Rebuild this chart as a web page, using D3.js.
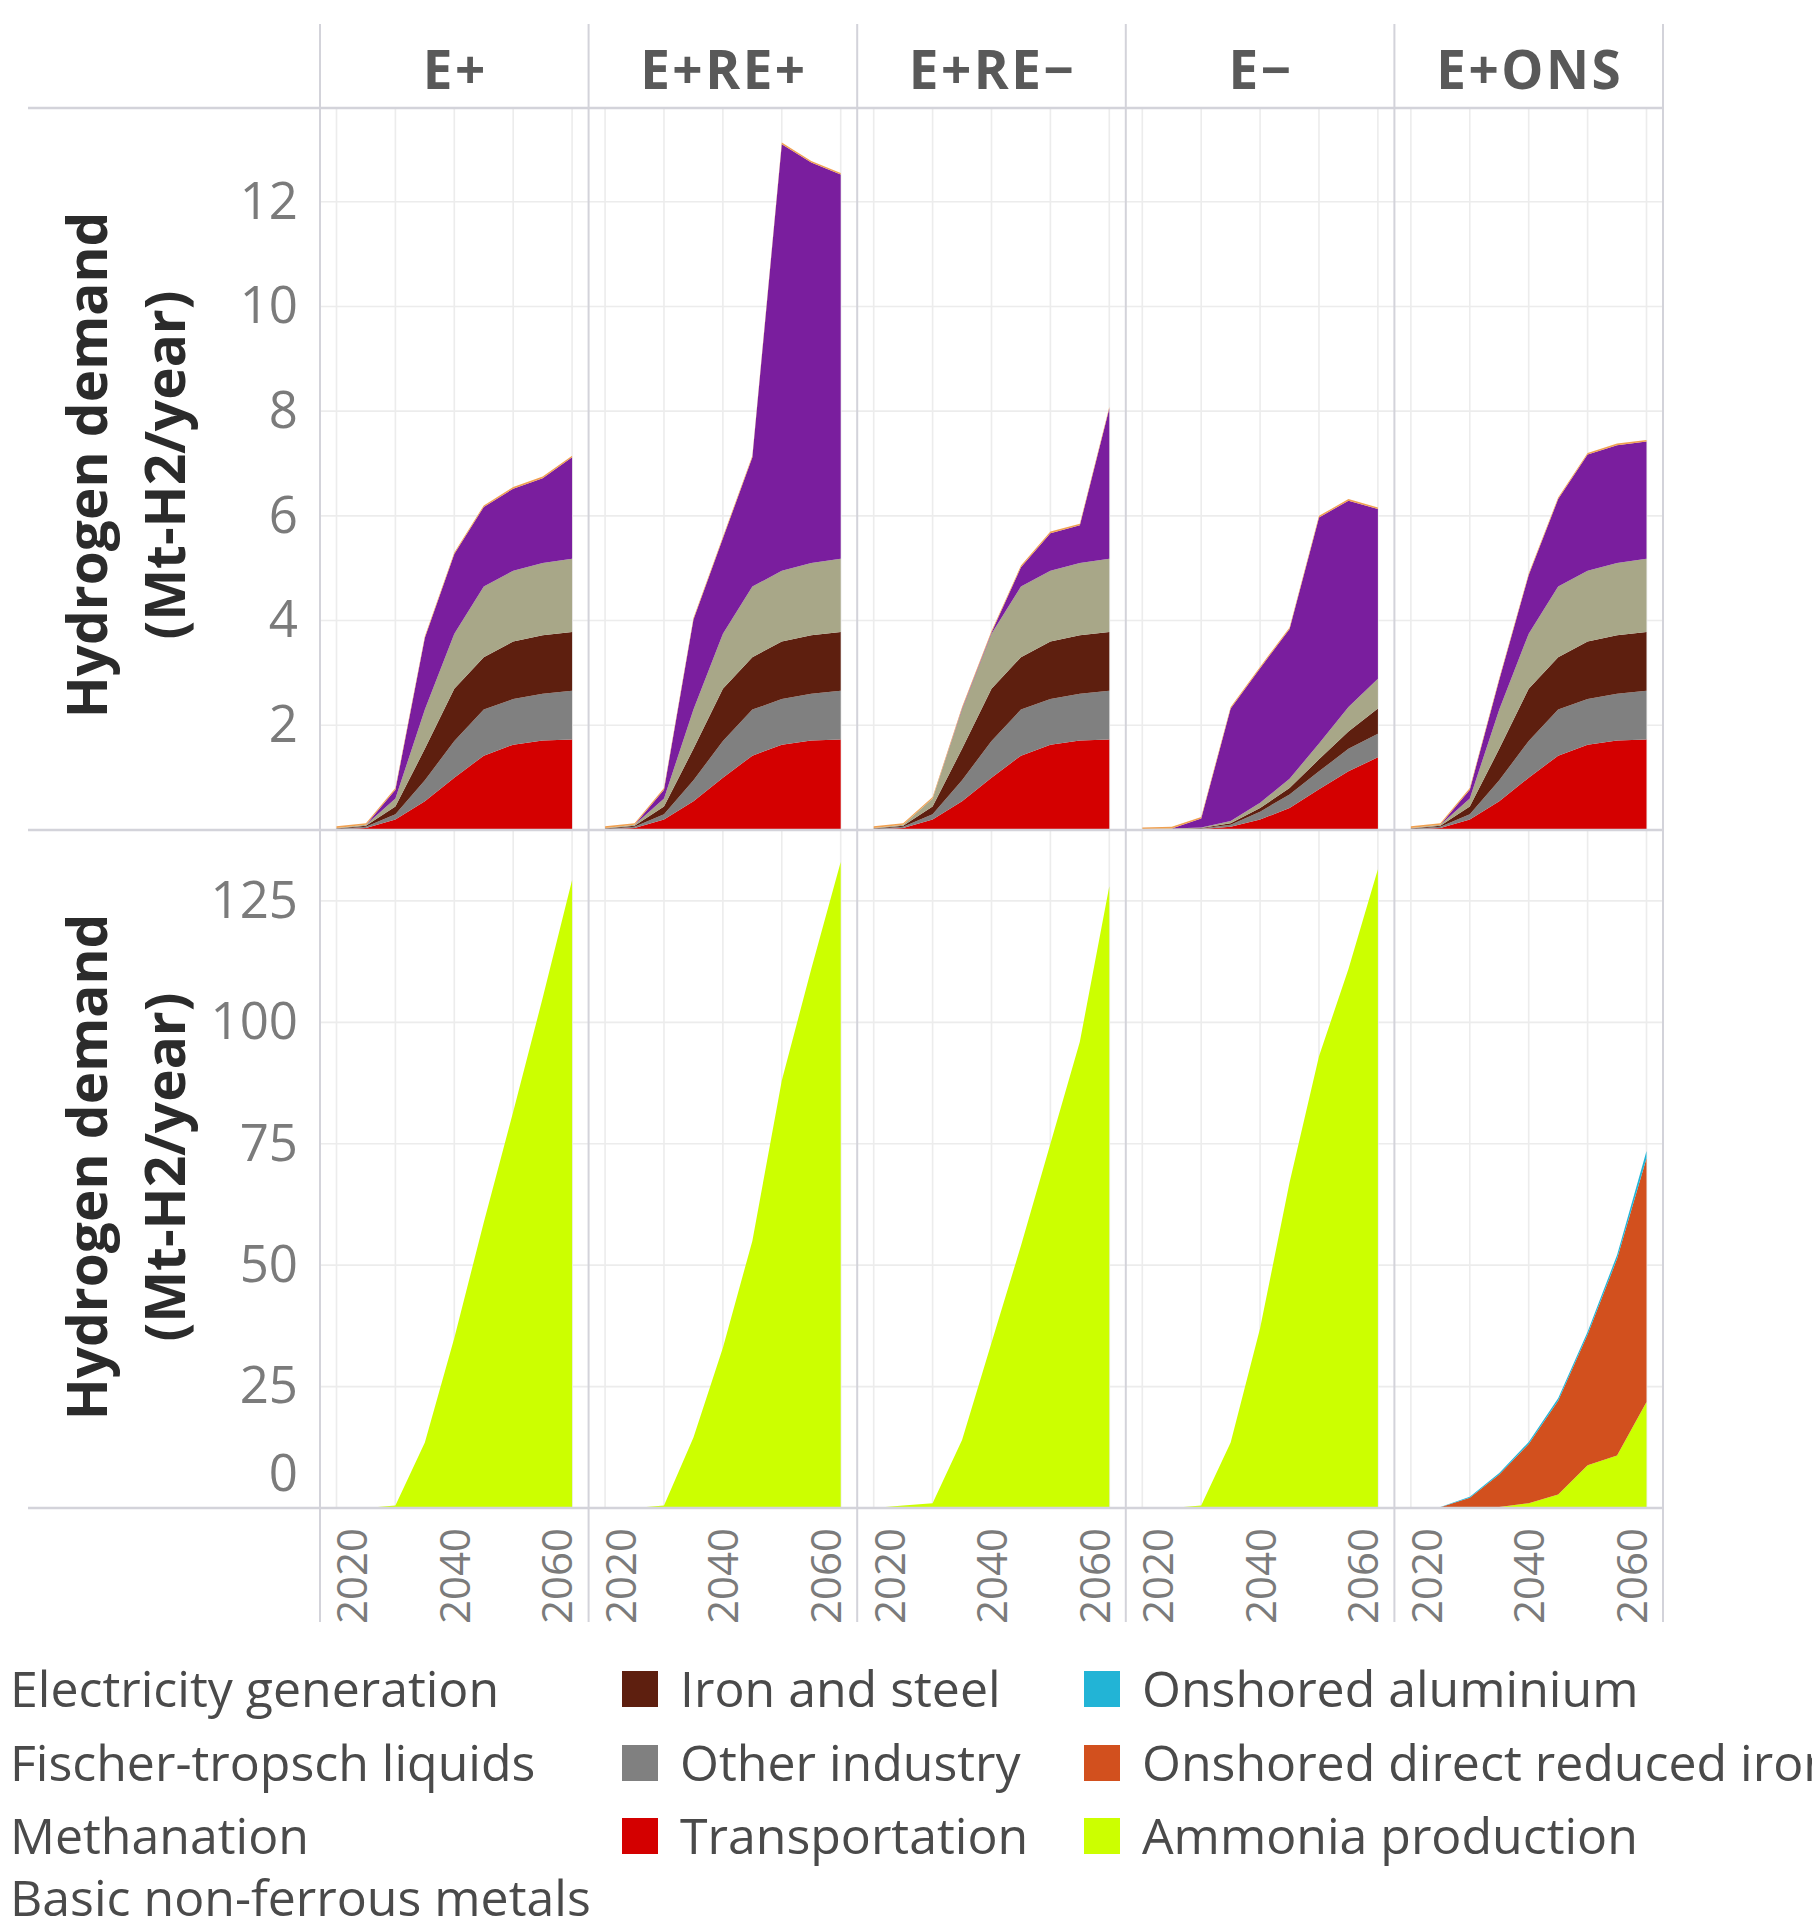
<!DOCTYPE html>
<html>
<head>
<meta charset="utf-8">
<script src="https://cdn.jsdelivr.net/npm/d3@7"></script>
<style>
  body { margin: 0; background: #fff; }
  text { font-family: "Open Sans", "Noto Sans", sans-serif; }
</style>
</head>
<body>
<svg id="chart" width="1812" height="1932"></svg>
<script>
// ---------------- DATA ----------------
const years = [2020, 2025, 2030, 2035, 2040, 2045, 2050, 2055, 2060];
const scenarios = ["E+", "E+RE+", "E+RE\u2212", "E\u2212", "E+ONS"];

const topTicks = [2, 4, 6, 8, 10, 12];
const bottomTicks = [0, 25, 50, 75, 100, 125];
const xTickLabels = [2020, 2040, 2060];
const xGridYears = [2020, 2030, 2040, 2050, 2060];

const legendLabels = [
  "Electricity generation", "Fischer-tropsch liquids", "Methanation", "Basic non-ferrous metals",
  "Iron and steel", "Other industry", "Transportation",
  "Onshored aluminium", "Onshored direct reduced iron", "Ammonia production"
];
const sectorColors = [
  "#f0a050", "#7a1e9e", "#a8a788", "#8fa08a",
  "#5e1f0f", "#808080", "#d40000",
  "#22b4d6", "#d2501e", "#ccff00"
];

// Top panel sectors (rows: E+, E+RE+, E+RE-, E-, E+ONS), Mt-H2/year
const electricityGeneration = [
  [0.03,0.03,0.03,0.03,0.03,0.03,0.03,0.03,0.03],
  [0.03,0.03,0.03,0.03,0.03,0.03,0.03,0.03,0.03],
  [0.03,0.03,0.03,0.03,0.03,0.03,0.03,0.03,0.03],
  [0.03,0.03,0.03,0.03,0.03,0.03,0.03,0.03,0.03],
  [0.03,0.03,0.03,0.03,0.03,0.03,0.03,0.03,0.03]
];
const fischerTropsch = [
  [0,0,0.17,1.37,1.52,1.52,1.57,1.62,1.94],
  [0,0,0.17,1.72,1.82,2.47,8.15,7.65,7.34],
  [0,0,0,0.02,0.02,0.37,0.72,0.72,2.87],
  [0,0,0.17,2.15,2.57,2.86,4.32,3.94,3.24],
  [0,0,0.17,0.57,1.12,1.67,2.22,2.25,2.24]
];
const methanation = [
  [0.01,0.02,0.15,0.75,1.05,1.35,1.35,1.38,1.4],
  [0.01,0.02,0.15,0.75,1.05,1.35,1.35,1.38,1.4],
  [0.01,0.02,0.15,0.75,1.05,1.35,1.35,1.38,1.4],
  [0.01,0.01,0.01,0.04,0.1,0.18,0.3,0.47,0.57],
  [0.01,0.02,0.15,0.75,1.05,1.35,1.35,1.38,1.4]
];
const basicNonFerrous = [
  [0,0,0,0,0,0,0,0,0],
  [0,0,0,0,0,0,0,0,0],
  [0,0,0,0,0,0,0,0,0],
  [0,0,0,0,0,0,0,0,0],
  [0,0,0,0,0,0,0,0,0]
];
const ironSteel = [
  [0.01,0.02,0.15,0.6,1.0,1.0,1.1,1.12,1.12],
  [0.01,0.02,0.15,0.6,1.0,1.0,1.1,1.12,1.12],
  [0.01,0.02,0.15,0.6,1.0,1.0,1.1,1.12,1.12],
  [0,0,0.01,0.03,0.07,0.12,0.23,0.33,0.48],
  [0.01,0.02,0.15,0.6,1.0,1.0,1.1,1.12,1.12]
];
const otherIndustry = [
  [0.01,0.02,0.1,0.4,0.7,0.88,0.87,0.89,0.93],
  [0.01,0.02,0.1,0.4,0.7,0.88,0.87,0.89,0.93],
  [0.01,0.02,0.1,0.4,0.7,0.88,0.87,0.89,0.93],
  [0,0.01,0.01,0.04,0.15,0.26,0.34,0.43,0.45],
  [0.01,0.02,0.1,0.4,0.7,0.88,0.87,0.89,0.93]
];
const transportation = [
  [0.01,0.04,0.2,0.55,1.0,1.42,1.63,1.71,1.73],
  [0.01,0.04,0.2,0.55,1.0,1.42,1.63,1.71,1.73],
  [0.01,0.04,0.2,0.55,1.0,1.42,1.63,1.71,1.73],
  [0.01,0.01,0.02,0.06,0.2,0.42,0.78,1.12,1.39],
  [0.01,0.04,0.2,0.55,1.0,1.42,1.63,1.71,1.73]
];

// Bottom panel sectors
const onshoredAluminium = [
  [0,0,0,0,0,0,0,0,0],
  [0,0,0,0,0,0,0,0,0],
  [0,0,0,0,0,0,0,0,0],
  [0,0,0,0,0,0,0,0,0],
  [0,0.05,0.2,0.3,0.4,0.5,0.6,0.8,1.5]
];
const onshoredDRI = [
  [0,0,0,0,0,0,0,0,0],
  [0,0,0,0,0,0,0,0,0],
  [0,0,0,0,0,0,0,0,0],
  [0,0,0,0,0,0,0,0,0],
  [0,0.15,2.1,6.7,12.2,19.3,26.9,40.5,50.2]
];
const ammoniaProduction = [
  [0,0,0.5,13.5,35,58.8,81.6,105,129.3],
  [0,0,0.5,14.5,33,55,88,111,133],
  [0,0.5,1,14,34,54,75,96,128],
  [0,0,0.5,13.5,37,67,93,111,131.5],
  [0,0,0,0.2,1,2.8,8.8,10.8,21.8]
];

// ---------------- LAYOUT ----------------
const svg = d3.select("#chart");
const PL = 320, PR = 1663, NP = scenarios.length, PW = (PR - PL) / NP;
const TOP0 = 108, MID = 830, BOT = 1508;
const LINE_L = 28, STRIP_TOP = 24, LINE_BOTTOM = 1622;
const gridColor = "#ececec", borderColor = "#d3d3da";
const tickColor = "#7b7b7b";

const yTop = d3.scaleLinear().domain([0, 13.79]).range([MID, TOP0]);
const yBot = d3.scaleLinear().domain([0, 139.6]).range([BOT, MID]);

const topSeries = [electricityGeneration, fischerTropsch, methanation, basicNonFerrous, ironSteel, otherIndustry, transportation];
const topKeys = legendLabels.slice(0, 7);
const botSeries = [onshoredAluminium, onshoredDRI, ammoniaProduction];
const botKeys = legendLabels.slice(7);
const color = d3.scaleOrdinal().domain(legendLabels).range(sectorColors);

function rowsFor(s, keys, series) {
  return years.map((yr, i) => {
    const r = { year: yr };
    keys.forEach((k, j) => r[k] = series[j][s][i]);
    return r;
  });
}

const gGrid = svg.append("g");
const gData = svg.append("g");
const gLines = svg.append("g");
const gText = svg.append("g");

scenarios.forEach((name, s) => {
  const L = PL + s * PW;
  const x = d3.scaleLinear().domain([2020, 2060]).range([L + 16.5, L + PW - 16.5]);

  // grid
  xGridYears.forEach(yr => {
    gGrid.append("line").attr("x1", x(yr)).attr("x2", x(yr)).attr("y1", TOP0).attr("y2", BOT)
      .attr("stroke", gridColor).attr("stroke-width", 1.6);
  });
  topTicks.forEach(v => {
    gGrid.append("line").attr("x1", L).attr("x2", L + PW).attr("y1", yTop(v)).attr("y2", yTop(v))
      .attr("stroke", gridColor).attr("stroke-width", 1.6);
  });
  bottomTicks.forEach(v => {
    gGrid.append("line").attr("x1", L).attr("x2", L + PW).attr("y1", yBot(v)).attr("y2", yBot(v))
      .attr("stroke", gridColor).attr("stroke-width", 1.6);
  });

  // top stacked areas (bottom-most key first)
  const tKeys = topKeys.slice().reverse();
  const tStack = d3.stack().keys(tKeys)(rowsFor(s, topKeys, topSeries));
  const areaT = d3.area().x(d => x(d.data.year)).y0(d => yTop(d[0])).y1(d => yTop(d[1]));
  gData.append("g").selectAll("path").data(tStack).join("path")
    .attr("d", areaT).attr("fill", d => color(d.key));

  const bKeys = botKeys.slice().reverse();
  const bStack = d3.stack().keys(bKeys)(rowsFor(s, botKeys, botSeries));
  const areaB = d3.area().x(d => x(d.data.year)).y0(d => yBot(d[0])).y1(d => yBot(d[1]));
  gData.append("g").selectAll("path").data(bStack).join("path")
    .attr("d", areaB).attr("fill", d => color(d.key));

  // strip label
  gText.append("text").attr("x", L + PW / 2 + 1).attr("y", 89)
    .attr("text-anchor", "middle").attr("font-size", 53).attr("font-weight", 700)
    .attr("letter-spacing", "2.5px").attr("fill", "#595959").text(name);

  // x axis labels
  const xl = d3.scaleLinear().domain([2020, 2060]).range([L + 31.7, L + 236.7]);
  const ax = gText.append("g").attr("transform", `translate(0,${BOT})`)
    .call(d3.axisBottom(xl).tickValues(xTickLabels).tickSize(0).tickFormat(d3.format("d")));
  ax.select(".domain").remove();
  ax.selectAll("text")
    .attr("transform", "rotate(-90)").attr("x", -20).attr("y", 0).attr("dy", "0.36em")
    .style("text-anchor", "end").attr("font-size", 42).attr("fill", tickColor)
    .style("font-family", "'Open Sans', sans-serif");
});

// borders
[TOP0, MID, BOT].forEach(yv => {
  gLines.append("line").attr("x1", LINE_L).attr("x2", PR).attr("y1", yv).attr("y2", yv)
    .attr("stroke", borderColor).attr("stroke-width", 2.5);
});
d3.range(NP + 1).forEach(i => {
  const xv = PL + i * PW;
  gLines.append("line").attr("x1", xv).attr("x2", xv).attr("y1", STRIP_TOP).attr("y2", LINE_BOTTOM)
    .attr("stroke", borderColor).attr("stroke-width", 2);
});

// y axes
const ayT = gText.append("g").attr("transform", `translate(${PL},0)`)
  .call(d3.axisLeft(yTop).tickValues(topTicks).tickSize(0).tickPadding(22));
const ayB = gText.append("g").attr("transform", `translate(${PL},0)`)
  .call(d3.axisLeft(yBot).tickValues(bottomTicks).tickSize(0).tickPadding(22));
[ayT, ayB].forEach(a => {
  a.select(".domain").remove();
  a.selectAll("text").attr("font-size", 51).attr("fill", tickColor)
    .style("font-family", "'Open Sans', sans-serif");
});
ayB.selectAll(".tick").filter(d => d === 0).select("text").attr("transform", "translate(0,-34)");

// y titles
[(TOP0 + MID) / 2 - 4, (MID + BOT) / 2 - 2].forEach(cy => {
  const g = gText.append("g").attr("transform", `translate(107,${cy}) rotate(-90)`);
  g.append("text").attr("text-anchor", "middle").attr("font-size", 55).attr("font-weight", 700)
    .attr("fill", "#2b2b2b").text("Hydrogen demand");
  g.append("text").attr("y", 78).attr("text-anchor", "middle").attr("font-size", 55).attr("font-weight", 700)
    .attr("fill", "#2b2b2b").text("(Mt-H2/year)");
});

// legend
const legendCols = [10, 680, 1142];
const legendRows = [1707, 1781, 1854, 1916];
const legendLayout = [[0,0],[0,1],[0,2],[0,3],[1,0],[1,1],[1,2],[2,0],[2,1],[2,2]];
const gLeg = svg.append("g");
legendLabels.forEach((lab, i) => {
  const [c, r] = legendLayout[i];
  const tx = legendCols[c], by = legendRows[r];
  gLeg.append("rect").attr("x", tx - 58).attr("y", by - 36).attr("width", 36).attr("height", 36)
    .attr("fill", color(lab));
  gLeg.append("text").attr("x", tx).attr("y", by).attr("font-size", 50)
    .attr("fill", "#4a4a4a").text(lab);
});
</script>
</body>
</html>
